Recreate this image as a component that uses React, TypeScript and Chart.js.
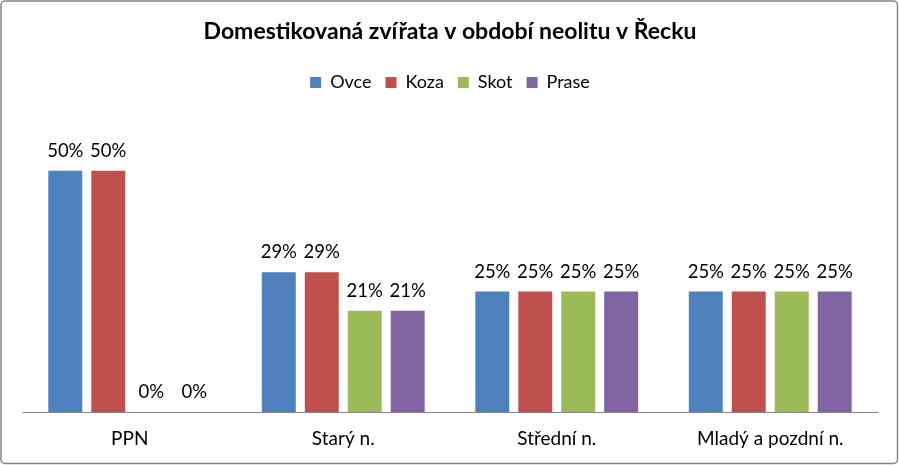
import React, { useEffect, useRef } from "react";
import { Chart, registerables } from "chart.js";
Chart.register(...registerables);

const categories = ["PPN", "Starý n.", "Střední n.", "Mladý a pozdní n."];
const seriesNames = ["Ovce", "Koza", "Skot", "Prase"];
const ovceVals = [50, 29, 25, 25];
const kozaVals = [50, 29, 25, 25];
const skotVals = [0, 21, 25, 25];
const praseVals = [0, 21, 25, 25];
const colors = ["#4F81BD", "#C0504D", "#9BBB59", "#8064A2"];
const FONT = "Lato, 'Liberation Sans', sans-serif";

const labelPlugin = {
  id: "valueLabels",
  afterDatasetsDraw(chart: any) {
    const ctx = chart.ctx;
    ctx.save();
    ctx.font = `18.5px ${FONT}`;
    ctx.fillStyle = "#000";
    ctx.textAlign = "center";
    ctx.textBaseline = "middle";
    chart.data.datasets.forEach((ds: any, i: number) => {
      const meta = chart.getDatasetMeta(i);
      meta.data.forEach((bar: any, j: number) => {
        ctx.fillText(ds.data[j] + "%", bar.x, bar.y - 20);
      });
    });
    ctx.restore();
  },
};

const legendGap = {
  id: "legendGap",
  beforeInit(chart: any) {
    const lg = chart.legend;
    if (!lg) return;
    const orig = lg.fit;
    lg.fit = function () {
      orig.call(lg);
      lg.height += 21;
    };
  },
};

const borderPlugin = {
  id: "outerBorder",
  beforeDraw(chart: any) {
    const ctx = chart.ctx;
    ctx.save();
    ctx.fillStyle = "#fff";
    ctx.fillRect(0, 0, chart.width, chart.height);
    ctx.strokeStyle = "#868686";
    ctx.lineWidth = 1.5;
    ctx.beginPath();
    (ctx as any).roundRect(1, 1, chart.width - 2.5, chart.height - 2.5, 4);
    ctx.stroke();
    ctx.restore();
  },
};

export default function App() {
  const ref = useRef<HTMLCanvasElement>(null);
  useEffect(() => {
    document.body.style.margin = "0";
    const data = [ovceVals, kozaVals, skotVals, praseVals];
    const chart = new Chart(ref.current!, {
      type: "bar",
      data: {
        labels: categories,
        datasets: seriesNames.map((n, i) => ({
          label: n,
          data: data[i],
          backgroundColor: colors[i],
          barPercentage: 0.79,
          categoryPercentage: 0.805,
        })),
      },
      options: {
        animation: false,
        responsive: false,
        layout: { padding: { left: 23, right: 22, top: 14, bottom: 0 } },
        plugins: {
          title: {
            display: true,
            text: "Domestikovaná zvířata v období neolitu v Řecku",
            color: "#000",
            font: { family: FONT, size: 23, weight: "bold" },
            padding: { top: 4, bottom: 14 },
          },
          legend: {
            display: true,
            labels: {
              color: "#000",
              font: { family: FONT, size: 18 },
              boxWidth: 11,
              boxHeight: 11,
              padding: 14,
            },
          },
          tooltip: { enabled: false },
        },
        scales: {
          y: { display: false, min: 0, max: 60 },
          x: {
            grid: { display: false, drawTicks: false },
            border: { display: true, color: "#868686", width: 1 },
            ticks: { color: "#000", font: { family: FONT, size: 19 }, padding: 15 },
          },
        },
      },
      plugins: [borderPlugin, legendGap, labelPlugin],
    });
    return () => chart.destroy();
  }, []);
  return <canvas ref={ref} width={899} height={465} style={{ display: "block" }} />;
}
